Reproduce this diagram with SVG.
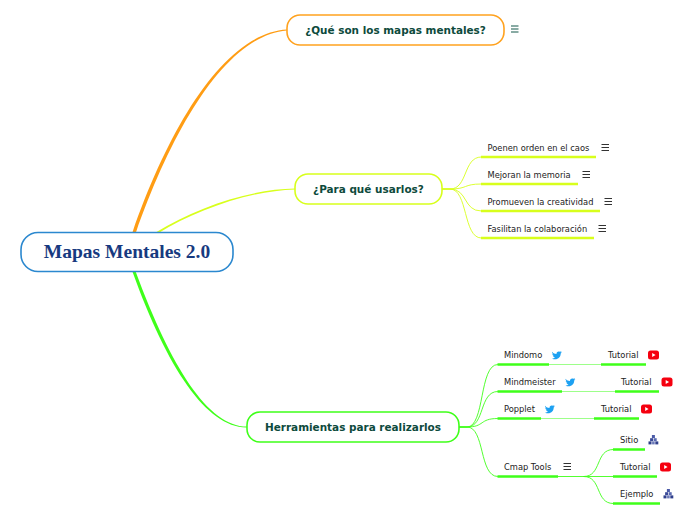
<svg xmlns="http://www.w3.org/2000/svg" width="696" height="520" viewBox="0 0 696 520">
<style>
.c{fill:none;stroke-linecap:round}
.y{stroke:#d8ff1c}.g{stroke:#3fff1a}
.u{stroke-width:2.6;fill:none}
.t{font:8.3px "DejaVu Sans",sans-serif;fill:#222}
.b{font:bold 10.450px "DejaVu Sans",sans-serif;fill:#0d4a3c;text-anchor:middle}
.n{fill:#fff;stroke-width:1.6}
.m{stroke:#333;stroke-width:1.1;fill:none}
</style>
<defs>
<g id="menu"><path d="M0 .5H7.500M0 3.500H7.500M0 6.500H7.500"/></g>
<g id="yt"><rect x="0" y="0" width="11" height="9" rx="2.500" fill="#f5000f"/><path d="M4.200 2.500V6.500L7.600 4.500Z" fill="#fff"/></g>
<path id="tw" fill="#1da1f2" d="M0 1.200C1.200 2.600 2.700 3.400 4.500 3.500C4.200 1.600 6.300 .2 7.900 1.300C8.400 1.300 9 1 9.500 .8C9.300 1.400 9 1.800 8.600 2.100L9.800 1.800C9.500 2.300 9.100 2.700 8.700 3C8.800 6 6.500 8.800 3.100 8.800C2 8.800 .9 8.500 0 7.900C1.100 8 2.200 7.700 3 7C2.100 7 1.300 6.400 1 5.600C1.300 5.700 1.700 5.700 2 5.600C1 5.300 .4 4.400 .3 3.400C.6 3.600 1 3.700 1.300 3.700C.4 3.100 -.2 2.100 0 1.200Z"/>
<g id="cm"><rect x="3.400" y="0" width="3" height="3" fill="#4a5aa8"/><rect x="1.600" y="3.200" width="3" height="3" fill="#3a4a98"/><rect x="5.200" y="3.200" width="3" height="3" fill="#5a6ab0"/><rect x="0" y="6.400" width="3" height="3" fill="#2f3f8c"/><rect x="3.600" y="6.400" width="2.600" height="3" fill="#6a78b8"/><rect x="6.800" y="6.400" width="3" height="3" fill="#2f3f8c"/></g>
</defs>
<g id="connectors">
<path fill="#ff9d14" d="M132.600 232C170 125 225 33 287 29.600V30.400C227 35 173 127 135.800 233Z"/>
<path fill="#d8ff1c" d="M156.500 232C195 208 250 189 295 188.600V189.400C251 190.500 196 210 158.200 233.200Z"/>
<path fill="#3fff1a" d="M132.600 272C167 368 207 428 247 427.400V426.600C208 426.500 171 367 135.800 272Z"/>
<g class="c y" stroke-width=".9">
<path d="M442 189H450C468 189 463 157 481 157"/>
<path d="M442 189H450C468 189 463 184 481 184"/>
<path d="M442 189H450C468 189 463 211 481 211"/>
<path d="M442 189H450C468 189 463 238 481 238"/>
</g>
<g class="u y">
<path d="M481 157H596M481 184H578M481 211H600M481 238H594"/>
</g>
<g class="c g" stroke-width=".9">
<path d="M459 427H467C485 427 479 364.500 497.500 364.500"/>
<path d="M459 427H467C485 427 479 391.500 497.500 391.500"/>
<path d="M459 427H467C485 427 479 418.500 497.500 418.500"/>
<path d="M459 427H467C485 427 479 476.500 497.500 476.500"/>
<path d="M584 476.500C602 476.500 595 449.500 613 449.500"/>
<path d="M584 476.500H613"/>
<path d="M584 476.500C602 476.500 595 503.500 613 503.500"/>
<path d="M558 476.500H584"/>
</g>
<g stroke="#9dff8a" stroke-width="1.2" fill="none">
<path d="M549 364.500H601M562 391.500H615M541 418.500H594"/>
</g>
<g class="u g">
<path d="M497.500 364.500H549M601 364.500H646M497.500 391.500H562M615 391.500H659M497.500 418.500H541M594 418.500H639M497.500 476.500H558M613 449.500H645M613 476.500H657M613 503.500H660"/>
</g>
</g>
<g id="root"><rect class="n" x="21" y="232.500" width="212" height="39" rx="17" fill="#fbfeff" stroke="#2b88cf"/><text x="127" y="258" text-anchor="middle" style="font:bold 19.500px 'Liberation Serif',serif;fill:#173a80">Mapas Mentales 2.0</text></g>
<g id="n1"><rect class="n" x="287" y="15" width="217" height="30" rx="13" stroke="#ffa21f"/><text class="b" x="395.500" y="34">¿Qué son los mapas mentales?</text><use href="#menu" x="511" y="25.500" stroke="#14594a" stroke-width="1.1" fill="none"/></g>
<g id="n2"><rect class="n" x="295" y="174" width="147" height="30" rx="13" stroke="#d8ff1c"/><text class="b" x="368.500" y="193">¿Para qué usarlos?</text></g>
<g id="n3"><rect class="n" x="247" y="412" width="212" height="30" rx="13" stroke="#3fff1a"/><text class="b" x="353" y="431">Herramientas para realizarlos</text></g>
<g id="a1"><text class="t" x="487.500" y="151">Poenen orden en el caos</text><use class="m" href="#menu" x="601.500" y="144"/></g>
<g id="a2"><text class="t" x="487.500" y="178">Mejoran la memoria</text><use class="m" href="#menu" x="582.500" y="171"/></g>
<g id="a3"><text class="t" x="487.500" y="205">Promueven la creatividad</text><use class="m" href="#menu" x="604.500" y="198"/></g>
<g id="a4"><text class="t" x="487.500" y="232">Fasilitan la colaboración</text><use class="m" href="#menu" x="598.500" y="225"/></g>
<g id="mindomo"><text class="t" x="504" y="358">Mindomo</text><use href="#tw" x="552" y="350.500"/></g>
<g id="mindomo-t"><text class="t" x="608" y="358">Tutorial</text><use href="#yt" x="648" y="350.500"/></g>
<g id="mindmeister"><text class="t" x="504" y="385">Mindmeister</text><use href="#tw" x="565.500" y="377.500"/></g>
<g id="mindmeister-t"><text class="t" x="621" y="385">Tutorial</text><use href="#yt" x="661.500" y="377.500"/></g>
<g id="popplet"><text class="t" x="504" y="412">Popplet</text><use href="#tw" x="545" y="404.500"/></g>
<g id="popplet-t"><text class="t" x="601" y="412">Tutorial</text><use href="#yt" x="641" y="404.500"/></g>
<g id="cmap"><text class="t" x="504" y="470">Cmap Tools</text><use class="m" href="#menu" x="563.500" y="463"/></g>
<g id="sitio"><text class="t" x="620" y="443">Sitio</text><use href="#cm" x="648.500" y="435"/></g>
<g id="cmap-t"><text class="t" x="620" y="470">Tutorial</text><use href="#yt" x="660" y="462.500"/></g>
<g id="ejemplo"><text class="t" x="620" y="497">Ejemplo</text><use href="#cm" x="663.500" y="489"/></g>
</svg>
